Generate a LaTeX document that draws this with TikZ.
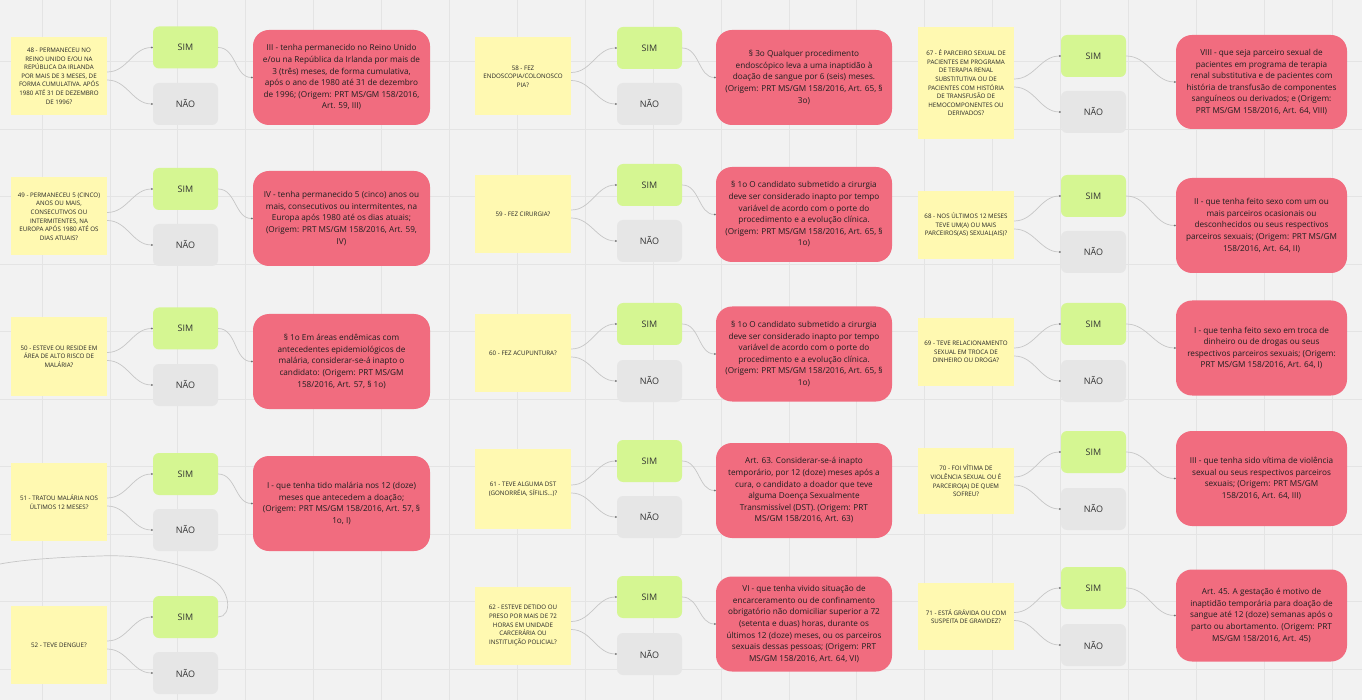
\documentclass[tikz,border=0pt]{standalone}
\usepackage{fontspec}
\setmainfont{Open Sans}
\usetikzlibrary{arrows.meta}
\definecolor{board}{HTML}{F2F2F2}
\definecolor{gridgrey}{HTML}{E4E4E4}
\definecolor{sticky}{HTML}{FFF9B1}
\definecolor{simgreen}{HTML}{D5F692}
\definecolor{naogrey}{HTML}{E6E6E6}
\definecolor{normared}{HTML}{F16C7F}
\definecolor{linkgrey}{HTML}{C6C6C6}
\begin{document}
\begin{tikzpicture}[x=1pt,y=-1pt]
	\tikzstyle{Question} = [fill=sticky,minimum width=96,minimum height=78,align=center,text=black!85,font=\fontsize{6.2}{8.6}\selectfont,inner sep=2pt]
	\tikzstyle{Sim} = [fill=simgreen,rounded corners=6pt,minimum width=65,minimum height=42,text=black!80,font=\fontsize{9}{11}\selectfont]
	\tikzstyle{Nao} = [Sim,fill=naogrey]
	\tikzstyle{Norma} = [fill=normared,rounded corners=16pt,minimum width=177,minimum height=95,align=center,text=black!88,font=\fontsize{8.2}{11.6}\selectfont,inner sep=2pt]
	\tikzstyle{Link} = [draw=linkgrey,line width=0.7pt,-{Circle[length=1.8pt,color=black!55]}]
	\useasboundingbox (0,0) rectangle (1362,700);
	\fill[board] (0,0) rectangle (1362,700);
	\foreach \gx in {0,...,19} \draw[gridgrey,line width=0.8pt] ({42+67.9*\gx},0) -- ({42+67.9*\gx},700);
	\foreach \gy in {0,...,9} \draw[gridgrey,line width=0.8pt] (0,{61.5+67.5*\gy}) -- (1362,{61.5+67.5*\gy});

	\node[Question] (q48) at (59,76) {48 - PERMANECEU NO\\REINO UNIDO E/OU NA\\REPÚBLICA DA IRLANDA\\POR MAIS DE 3 MESES, DE\\FORMA CUMULATIVA. APÓS\\1980 ATÉ 31 DE DEZEMBRO\\DE 1996?};
	\node[Sim] (s48) at (185.5,47.5) {SIM};
	\node[Nao] (n48) at (185.5,104) {NÃO};
	\node[Norma] (r48) at (341.5,77.5) {III - tenha permanecido no Reino Unido\\e/ou na República da Irlanda por mais de\\3 (três) meses, de forma cumulativa,\\após o ano de 1980 até 31 de dezembro\\de 1996; (Origem: PRT MS/GM 158/2016,\\Art. 59, III)};

	\node[Question] (q49) at (59,216.5) {49 - PERMANECEU 5 (CINCO)\\ANOS OU MAIS,\\CONSECUTIVOS OU\\INTERMITENTES, NA\\EUROPA APÓS 1980 ATÉ OS\\DIAS ATUAIS?};
	\node[Sim] (s49) at (185.5,189) {SIM};
	\node[Nao] (n49) at (185.5,245) {NÃO};
	\node[Norma] (r49) at (341.5,218.5) {IV - tenha permanecido 5 (cinco) anos ou\\mais, consecutivos ou intermitentes, na\\Europa após 1980 até os dias atuais;\\(Origem: PRT MS/GM 158/2016, Art. 59,\\IV)};

	\node[Question] (q50) at (59,356.5) {50 - ESTEVE OU RESIDE EM\\ÁREA DE ALTO RISCO DE\\MALÁRIA?};
	\node[Sim] (s50) at (185.5,328.5) {SIM};
	\node[Nao] (n50) at (185.5,385) {NÃO};
	\node[Norma] (r50) at (341.5,361.5) {§ 1o Em áreas endêmicas com\\antecedentes epidemiológicos de\\malária, considerar-se-á inapto o\\candidato: (Origem: PRT MS/GM\\158/2016, Art. 57, § 1o)};

	\node[Question] (q51) at (59,502) {51 - TRATOU MALÁRIA NOS\\ÚLTIMOS 12 MESES?};
	\node[Sim] (s51) at (185.5,474) {SIM};
	\node[Nao] (n51) at (185.5,530) {NÃO};
	\node[Norma] (r51) at (341.5,503.5) {I - que tenha tido malária nos 12 (doze)\\meses que antecedem a doação;\\(Origem: PRT MS/GM 158/2016, Art. 57, §\\1o, I)};

	\node[Question] (q52) at (59,645) {52 - TEVE DENGUE?};
	\node[Sim] (s52) at (185.5,617) {SIM};
	\node[Nao] (n52) at (185.5,673) {NÃO};

	\node[Question] (q58) at (523,76.5) {58 - FEZ\\ENDOSCOPIA/COLONOSCO\\PIA?};
	\node[Sim] (s58) at (649.5,48) {SIM};
	\node[Nao] (n58) at (649.5,104) {NÃO};
	\node[Norma,minimum width=176] (r58) at (804,77.5) {§ 3o Qualquer procedimento\\endoscópico leva a uma inaptidão à\\doação de sangue por 6 (seis) meses.\\(Origem: PRT MS/GM 158/2016, Art. 65, §\\3o)};

	\node[Question] (q59) at (523,214) {59 - FEZ CIRURGIA?};
	\node[Sim] (s59) at (649.5,185) {SIM};
	\node[Nao] (n59) at (649.5,241) {NÃO};
	\node[Norma,minimum width=176] (r59) at (804,214.5) {§ 1o O candidato submetido a cirurgia\\deve ser considerado inapto por tempo\\variável de acordo com o porte do\\procedimento e a evolução clínica.\\(Origem: PRT MS/GM 158/2016, Art. 65, §\\1o)};

	\node[Question] (q60) at (523,353) {60 - FEZ ACUPUNTURA?};
	\node[Sim] (s60) at (649.5,324) {SIM};
	\node[Nao] (n60) at (649.5,381) {NÃO};
	\node[Norma,minimum width=176] (r60) at (804,354) {§ 1o O candidato submetido a cirurgia\\deve ser considerado inapto por tempo\\variável de acordo com o porte do\\procedimento e a evolução clínica.\\(Origem: PRT MS/GM 158/2016, Art. 65, §\\1o)};

	\node[Question,minimum height=80] (q61) at (523,489) {61 - TEVE ALGUMA DST\\(GONORRÉIA, SÍFILIS...)?};
	\node[Sim] (s61) at (649.5,461) {SIM};
	\node[Nao] (n61) at (649.5,517) {NÃO};
	\node[Norma,minimum width=176] (r61) at (804,490.5) {Art. 63. Considerar-se-á inapto\\temporário, por 12 (doze) meses após a\\cura, o candidato a doador que teve\\alguma Doença Sexualmente\\Transmissível (DST). (Origem: PRT\\MS/GM 158/2016, Art. 63)};

	\node[Question] (q62) at (523,625.5) {62 - ESTEVE DETIDO OU\\PRESO POR MAIS DE 72\\HORAS EM UNIDADE\\CARCERÁRIA OU\\INSTITUIÇÃO POLICIAL?};
	\node[Sim] (s62) at (649.5,597) {SIM};
	\node[Nao] (n62) at (649.5,654) {NÃO};
	\node[Norma,minimum width=176] (r62) at (804,624) {VI - que tenha vivido situação de\\encarceramento ou de confinamento\\obrigatório não domiciliar superior a 72\\(setenta e duas) horas, durante os\\últimos 12 (doze) meses, ou os parceiros\\sexuais dessas pessoas; (Origem: PRT\\MS/GM 158/2016, Art. 64, VI)};

	\node[Question,minimum height=112] (q67) at (966,83) {67 - É PARCEIRO SEXUAL DE\\PACIENTES EM PROGRAMA\\DE TERAPIA RENAL\\SUBSTITUTIVA OU DE\\PACIENTES COM HISTÓRIA\\DE TRANSFUSÃO DE\\HEMOCOMPONENTES OU\\DERIVADOS?};
	\node[Sim] (s67) at (1093.5,56) {SIM};
	\node[Nao] (n67) at (1093.5,112) {NÃO};
	\node[Norma,minimum width=171,minimum height=94] (r67) at (1261.5,82) {VIII - que seja parceiro sexual de\\pacientes em programa de terapia\\renal substitutiva e de pacientes com\\história de transfusão de componentes\\sanguíneos ou derivados; e (Origem:\\PRT MS/GM 158/2016, Art. 64, VIII)};

	\node[Question,minimum height=68] (q68) at (966,225) {68 - NOS ÚLTIMOS 12 MESES\\TEVE UM(A) OU MAIS\\PARCEIROS(AS) SEXUAL(AIS)?};
	\node[Sim] (s68) at (1093.5,196) {SIM};
	\node[Nao] (n68) at (1093.5,252) {NÃO};
	\node[Norma,minimum width=171] (r68) at (1261.5,225.5) {II - que tenha feito sexo com um ou\\mais parceiros ocasionais ou\\desconhecidos ou seus respectivos\\parceiros sexuais; (Origem: PRT MS/GM\\158/2016, Art. 64, II)};

	\node[Question,minimum height=68] (q69) at (966,352) {69 - TEVE RELACIONAMENTO\\SEXUAL EM TROCA DE\\DINHEIRO OU DROGA?};
	\node[Sim] (s69) at (1093.5,324) {SIM};
	\node[Nao] (n69) at (1093.5,381) {NÃO};
	\node[Norma,minimum width=171] (r69) at (1261.5,348) {I - que tenha feito sexo em troca de\\dinheiro ou de drogas ou seus\\respectivos parceiros sexuais; (Origem:\\PRT MS/GM 158/2016, Art. 64, I)};

	\node[Question,minimum height=66] (q70) at (966,481) {70 - FOI VÍTIMA DE\\VIOLÊNCIA SEXUAL OU É\\PARCEIRO(A) DE QUEM\\SOFREU?};
	\node[Sim] (s70) at (1093.5,452) {SIM};
	\node[Nao] (n70) at (1093.5,509) {NÃO};
	\node[Norma,minimum width=171] (r70) at (1261.5,478.5) {III - que tenha sido vítima de violência\\sexual ou seus respectivos parceiros\\sexuais; (Origem: PRT MS/GM\\158/2016, Art. 64, III)};

	\node[Question,minimum height=67] (q71) at (966,616.5) {71 - ESTÁ GRÁVIDA OU COM\\SUSPEITA DE GRAVIDEZ?};
	\node[Sim] (s71) at (1093.5,588) {SIM};
	\node[Nao] (n71) at (1093.5,645) {NÃO};
	\node[Norma,minimum width=171,minimum height=92] (r71) at (1261.5,615.5) {Art. 45. A gestação é motivo de\\inaptidão temporária para doação de\\sangue até 12 (doze) semanas após o\\parto ou abortamento. (Origem: PRT\\MS/GM 158/2016, Art. 45)};

	\foreach \k in {48,49,50,51,52,58,59,60,61,62,67,68,69,70,71} {
		\draw[Link] ([yshift=4pt]q\k.east) to[out=0,in=180] (s\k.west);
		\draw[Link] ([yshift=-4pt]q\k.east) to[out=0,in=180] (n\k.west);
	}
	\foreach \k in {48,49,50,51,58,59,60,61,62,67,68,69,70,71}
		\draw[Link] (s\k.east) to[out=0,in=180] (r\k.west);

	\coordinate (offleft) at (0,564);
	\draw[draw=linkgrey,line width=0.7pt] (s52.east) .. controls (232,617) and (232,590) .. (210,578) .. controls (170,556) and (120,555) .. (100,556) .. controls (60,557) and (20,560) .. (offleft);
\end{tikzpicture}
\end{document}
